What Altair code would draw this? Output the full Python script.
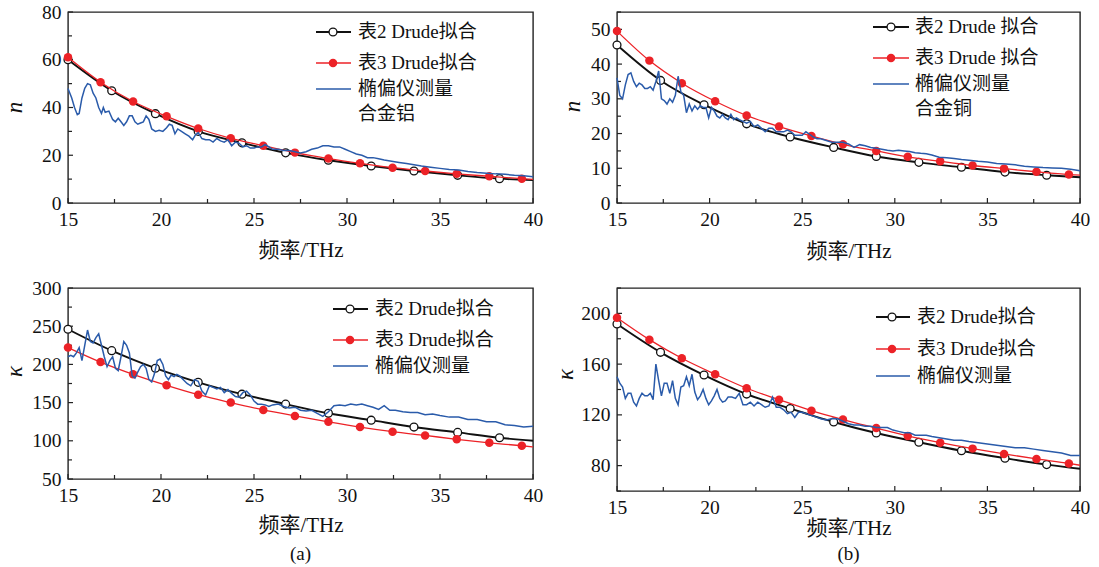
import altair as alt
import pandas as pd

SERIF = "'Liberation Serif', 'Noto Sans CJK SC', serif"
FRAME = "#222222"
C_BLACK = "#111111"
C_RED = "#EC2227"
C_BLUE = "#2A5BAA"

# ---- data -------------------------------------------------------------
X_MAJOR = [15, 20, 25, 30, 35, 40]
X_MINOR = [17.5, 22.5, 27.5, 32.5, 37.5]

X_BLACK = [15, 17.35, 19.7, 22.0, 24.35, 26.7, 29.0, 31.3, 33.6, 35.95, 38.2, 40]
X_RED = [15, 16.75, 18.5, 20.3, 22.0, 23.75, 25.5, 27.2, 29.0, 30.7, 32.45, 34.2, 35.9, 37.65, 39.4, 40]

# (a) n, alloy Al
TL_BLACK = [60, 47, 37.4, 30, 25.2, 21, 17.9, 15.5, 13.4, 11.6, 10.2, 9.6]
TL_RED = [61, 50.6, 42.5, 36.3, 31.2, 27.1, 24, 21.1, 18.6, 16.6, 14.8, 13.4, 12.2, 11.2, 10.2, 9.9]
TL_BLUE = [(15.0, 48), (15.2, 44), (15.35, 40), (15.5, 37), (15.6, 37.5), (15.75, 44), (15.9, 48),
           (16.05, 50), (16.2, 49.5), (16.35, 46), (16.5, 44), (16.65, 40), (16.8, 37.5), (16.9, 40),
           (17.0, 38), (17.2, 38.5), (17.4, 35), (17.55, 34), (17.7, 35.5), (17.85, 34), (18.0, 32.5),
           (18.15, 34), (18.3, 36.5), (18.45, 36.5), (18.6, 34), (18.75, 33), (18.9, 33.5), (19.05, 34),
           (19.2, 36.5), (19.35, 35), (19.5, 31), (19.7, 30), (19.9, 30.5), (20.1, 30), (20.3, 31.5),
           (20.45, 33), (20.6, 32.5), (20.75, 29), (20.9, 31), (21.1, 30), (21.3, 29), (21.5, 28),
           (21.7, 26.5), (21.85, 28.5), (22.0, 29.5), (22.2, 27), (22.4, 26.5), (22.6, 26.5), (22.8, 25.5),
           (23.0, 27), (23.2, 26), (23.4, 25.5), (23.6, 26.5), (23.8, 24), (24.0, 25.5), (24.2, 25),
           (24.4, 23.5), (24.6, 24), (24.8, 23), (25.0, 23), (25.2, 23.5), (25.4, 23.5), (25.6, 24.5),
           (25.8, 23.5), (26.0, 22.5), (26.3, 22.5), (26.6, 22), (26.9, 22), (27.2, 21.5), (27.5, 21),
           (27.8, 21.5), (28.1, 22.5), (28.4, 23), (28.7, 24), (29.0, 24), (29.3, 23.5), (29.6, 23.5),
           (29.9, 22.5), (30.2, 21.5), (30.5, 20.5), (30.8, 20), (31.1, 19), (31.4, 19), (31.7, 18.5),
           (32.0, 18), (32.4, 17.5), (32.8, 17), (33.2, 16.5), (33.6, 16), (34.0, 15.5), (34.5, 15),
           (35.0, 14.5), (35.5, 14), (36.0, 13.8), (36.5, 13.2), (37.0, 12.8), (37.5, 12.5), (38.0, 12.2),
           (38.5, 12), (39.0, 11.6), (39.5, 11.4), (40.0, 11)]

# (b) n, alloy Cu
TR_BLACK = [45.5, 35.3, 28.3, 22.8, 19, 16, 13.4, 11.7, 10.3, 8.9, 8, 7.4]
TR_RED = [49.5, 41, 34.5, 29.3, 25.2, 22, 19.3, 16.9, 15, 13.3, 12, 10.8, 9.9, 9, 8.2, 8]
TR_BLUE = [(15.0, 36), (15.15, 31), (15.3, 30), (15.45, 34), (15.6, 37), (15.75, 37.5), (15.9, 35),
           (16.05, 33.5), (16.2, 34.5), (16.35, 34), (16.5, 33), (16.65, 33), (16.8, 33.5), (16.95, 32.5),
           (17.1, 35), (17.25, 38), (17.4, 30), (17.55, 29.5), (17.7, 28.5), (17.85, 30), (18.0, 29),
           (18.15, 31), (18.3, 36.5), (18.45, 32), (18.6, 31), (18.75, 26), (18.9, 28.5), (19.05, 26.5),
           (19.2, 28), (19.35, 27), (19.5, 28), (19.65, 27.5), (19.8, 27.5), (19.95, 24.5), (20.1, 27.5),
           (20.25, 26.5), (20.4, 25), (20.55, 24.5), (20.7, 25.5), (20.85, 24.5), (21.0, 24), (21.15, 25.5),
           (21.3, 24), (21.45, 24.5), (21.6, 24), (21.8, 23.5), (22.0, 23), (22.2, 23.5), (22.4, 22),
           (22.6, 22.5), (22.8, 21.5), (23.0, 20.5), (23.2, 21.5), (23.4, 21.5), (23.6, 20.5), (23.8, 20.5),
           (24.0, 20.5), (24.2, 21), (24.4, 20.5), (24.6, 19.5), (24.8, 19.5), (25.0, 19.5), (25.2, 20.5),
           (25.4, 19.8), (25.6, 19), (25.8, 18.5), (26.0, 18.5), (26.3, 18), (26.6, 17.5), (26.9, 17.5),
           (27.2, 17.5), (27.5, 17), (27.8, 16), (28.1, 16.8), (28.4, 16.5), (28.7, 16), (29.0, 15.8),
           (29.3, 15.5), (29.6, 15.2), (29.9, 15), (30.2, 15.2), (30.5, 15), (30.8, 14.8), (31.1, 14.5),
           (31.4, 14.3), (31.7, 14.2), (32.0, 13.8), (32.4, 13.2), (32.8, 13), (33.2, 12.8), (33.6, 12.5),
           (34.0, 12.3), (34.5, 12), (35.0, 11.8), (35.5, 11.4), (36.0, 11.2), (36.5, 11), (37.0, 10.6),
           (37.5, 10.4), (38.0, 10.2), (38.5, 10.1), (39.0, 10), (39.5, 9.7), (40.0, 9.3)]

# (a) kappa, alloy Al
BL_BLACK = [246, 218, 195, 176.5, 161, 148, 136, 127, 118, 111, 104, 100]
BL_RED = [222, 203, 187, 172.6, 160.4, 150, 140.4, 132.6, 124.8, 118, 112, 107, 102, 97.4, 93.5, 92]
BL_BLUE = [(15.0, 210), (15.15, 212), (15.3, 210), (15.45, 215), (15.6, 222), (15.75, 205), (15.9, 225),
           (16.05, 245), (16.2, 230), (16.35, 228), (16.5, 235), (16.65, 240), (16.8, 225), (16.95, 210),
           (17.1, 197), (17.25, 205), (17.4, 210), (17.55, 195), (17.7, 192), (17.85, 210), (18.0, 230),
           (18.15, 225), (18.3, 215), (18.45, 185), (18.6, 182), (18.75, 190), (18.9, 197), (19.05, 200),
           (19.2, 195), (19.35, 180), (19.5, 177), (19.65, 188), (19.8, 205), (19.95, 207), (20.1, 200),
           (20.25, 185), (20.4, 180), (20.55, 186), (20.7, 184), (20.85, 187), (21.0, 185), (21.2, 180),
           (21.4, 175), (21.6, 172), (21.8, 180), (22.0, 178), (22.2, 165), (22.4, 160), (22.6, 172),
           (22.8, 170), (23.0, 168), (23.2, 170), (23.4, 163), (23.6, 167), (23.8, 162), (24.0, 158),
           (24.2, 157), (24.4, 163), (24.6, 165), (24.8, 160), (25.0, 152), (25.2, 148), (25.4, 148),
           (25.6, 147), (25.8, 145), (26.0, 147), (26.3, 148), (26.6, 145), (26.9, 143), (27.2, 144),
           (27.5, 140), (27.8, 139), (28.1, 140), (28.4, 136), (28.7, 132), (29.0, 138), (29.3, 146),
           (29.6, 147), (29.9, 146), (30.2, 148), (30.5, 147), (30.8, 148), (31.1, 146), (31.4, 144),
           (31.7, 141), (32.0, 146), (32.3, 140), (32.6, 140), (33.0, 138), (33.4, 137), (33.8, 137),
           (34.2, 134), (34.6, 135), (35.0, 133), (35.5, 131), (36.0, 131), (36.5, 128), (37.0, 128),
           (37.5, 125), (38.0, 125), (38.5, 121), (39.0, 120), (39.5, 118), (40.0, 119)]

# (b) kappa, alloy Cu
BR_BLACK = [191.6, 169.3, 151.4, 136.4, 125, 114.4, 105.7, 98.4, 91.7, 85.9, 80.8, 77.5]
BR_RED = [196.6, 179.3, 164.6, 152, 141, 132, 123.3, 116.3, 109.6, 103.4, 98.1, 93.4, 89.2, 85.3, 81.7, 80.3]
BR_BLUE = [(15.0, 150), (15.15, 145), (15.3, 142), (15.45, 133), (15.6, 137), (15.75, 137), (15.9, 130),
           (16.05, 127), (16.2, 133), (16.35, 137), (16.5, 135), (16.65, 135), (16.8, 137), (16.95, 132),
           (17.1, 160), (17.25, 147), (17.4, 135), (17.55, 145), (17.7, 145), (17.85, 137), (18.0, 147),
           (18.15, 133), (18.3, 128), (18.45, 142), (18.6, 143), (18.75, 150), (18.9, 143), (19.05, 152),
           (19.2, 138), (19.35, 132), (19.5, 135), (19.65, 140), (19.8, 133), (19.95, 128), (20.1, 131),
           (20.25, 135), (20.4, 140), (20.55, 133), (20.7, 130), (20.85, 131), (21.0, 134), (21.2, 134),
           (21.4, 133), (21.6, 137), (21.8, 128), (22.0, 128), (22.2, 130), (22.4, 127), (22.6, 130),
           (22.8, 128), (23.0, 126), (23.2, 127), (23.4, 134), (23.6, 126), (23.8, 126), (24.0, 124),
           (24.2, 121), (24.4, 122), (24.6, 118), (24.8, 122), (25.0, 122), (25.2, 121), (25.4, 120),
           (25.6, 119), (25.8, 118), (26.0, 117), (26.3, 116), (26.6, 117), (26.9, 117), (27.2, 115),
           (27.5, 113), (27.8, 112), (28.1, 112), (28.4, 111), (28.7, 111), (29.0, 110), (29.3, 110),
           (29.6, 110), (29.9, 108), (30.2, 107), (30.5, 106), (30.8, 106), (31.1, 104), (31.4, 104),
           (31.7, 104), (32.0, 103), (32.4, 102), (32.8, 101), (33.2, 100), (33.6, 100), (34.0, 99),
           (34.5, 98), (35.0, 97), (35.5, 96), (36.0, 95), (36.5, 94), (37.0, 94), (37.5, 93),
           (38.0, 92), (38.5, 91), (39.0, 90), (39.5, 88), (40.0, 88)]

LEG_A = ["表2 Drude拟合", "表3 Drude拟合", "椭偏仪测量"]
LEG_B = ["表2 Drude 拟合", "表3 Drude 拟合", "椭偏仪测量"]

LEG_FS = 19


def make_panel(w, h, ydom, ymaj, ymin, ytitle, black, red, blue, labels, note,
               leg, ytx, yty, xty, tag=None, tag_y=None, anchor=False):
    xs = alt.Scale(domain=[15, 40], nice=False, zero=False)
    ys = alt.Scale(domain=ydom, nice=False, zero=False)
    x_enc = alt.X("x:Q", scale=xs,
                  axis=alt.Axis(values=X_MAJOR, format="d", title="频率/THz",
                                titleX=w / 2, titleY=xty, titleAlign="center",
                                titleBaseline="middle", labelOverlap=False, labelFlush=False))
    y_enc = alt.Y("y:Q", scale=ys,
                  axis=alt.Axis(values=ymaj, format="d", title=ytitle,
                                titleX=ytx, titleY=yty, titleAngle=-90,
                                titleAlign="center", titleBaseline="middle",
                                titleFontStyle="italic", titleFontSize=23,
                                labelOverlap=False, labelFlush=False))

    dfb = pd.DataFrame({"x": X_BLACK, "y": black})
    dfr = pd.DataFrame({"x": X_RED, "y": red})
    dfm = pd.DataFrame({"x": [p[0] for p in blue], "y": [p[1] for p in blue]})
    one = pd.DataFrame({"d": [0]})

    layers = []
    # inward ticks
    layers.append(alt.Chart(pd.DataFrame({"x": X_MAJOR})).mark_rule(color=FRAME, strokeWidth=1.2)
                  .encode(x=x_enc, y=alt.value(h), y2=alt.value(h - 5)))
    layers.append(alt.Chart(pd.DataFrame({"x": X_MINOR})).mark_rule(color=FRAME, strokeWidth=1.2)
                  .encode(x=x_enc, y=alt.value(h), y2=alt.value(h - 4)))
    layers.append(alt.Chart(pd.DataFrame({"y": ymaj})).mark_rule(color=FRAME, strokeWidth=1.2)
                  .encode(y=y_enc, x=alt.value(0), x2=alt.value(5)))
    layers.append(alt.Chart(pd.DataFrame({"y": ymin})).mark_rule(color=FRAME, strokeWidth=1.2)
                  .encode(y=y_enc, x=alt.value(0), x2=alt.value(4)))

    # curves
    layers.append(alt.Chart(dfb).mark_line(color=C_BLACK, strokeWidth=1.9, interpolate="monotone")
                  .encode(x=x_enc, y=y_enc))
    layers.append(alt.Chart(dfb[dfb["x"] < 40]).mark_point(shape="circle", filled=True, fill="white",
                                                           stroke=C_BLACK, strokeWidth=1.3, size=62, opacity=1)
                  .encode(x=x_enc, y=y_enc))
    layers.append(alt.Chart(dfr).mark_line(color=C_RED, strokeWidth=1.3, interpolate="monotone")
                  .encode(x=x_enc, y=y_enc))
    layers.append(alt.Chart(dfr[dfr["x"] < 40]).mark_point(shape="circle", filled=True, fill=C_RED,
                                                           size=72, opacity=1)
                  .encode(x=x_enc, y=y_enc))
    layers.append(alt.Chart(dfm).mark_line(color=C_BLUE, strokeWidth=1.5)
                  .encode(x=x_enc, y=y_enc))

    # legend (drawn by hand)
    l0, l1, lc, tx, rows = leg
    layers.append(alt.Chart(one).mark_rule(color=C_BLACK, strokeWidth=1.9)
                  .encode(x=alt.value(l0), x2=alt.value(l1), y=alt.value(rows[0])))
    layers.append(alt.Chart(one).mark_point(shape="circle", filled=True, fill="white", stroke=C_BLACK,
                                            strokeWidth=1.3, size=62, opacity=1)
                  .encode(x=alt.value(lc), y=alt.value(rows[0])))
    layers.append(alt.Chart(one).mark_rule(color=C_RED, strokeWidth=1.3)
                  .encode(x=alt.value(l0), x2=alt.value(l1), y=alt.value(rows[1])))
    layers.append(alt.Chart(one).mark_point(shape="circle", filled=True, fill=C_RED, size=72, opacity=1)
                  .encode(x=alt.value(lc), y=alt.value(rows[1])))
    layers.append(alt.Chart(one).mark_rule(color=C_BLUE, strokeWidth=1.6)
                  .encode(x=alt.value(l0), x2=alt.value(l1), y=alt.value(rows[2])))
    texts = list(labels) + ([note] if note else [])
    for i, t in enumerate(texts):
        layers.append(alt.Chart(one).mark_text(align="left", baseline="middle", font=SERIF,
                                               fontSize=LEG_FS, color=C_BLACK)
                      .encode(x=alt.value(tx), y=alt.value(rows[i]), text=alt.value(t)))
    if tag:
        layers.append(alt.Chart(one).mark_text(align="center", baseline="middle", font=SERIF,
                                               fontSize=19, color=C_BLACK)
                      .encode(x=alt.value(w / 2), y=alt.value(tag_y), text=alt.value(tag)))
    if anchor:
        layers.append(alt.Chart(one).mark_rule(opacity=0, strokeWidth=0.5, color="white")
                      .encode(x=alt.value(-67), x2=alt.value(-66), y=alt.value(-11), y2=alt.value(-10)))
    return alt.layer(*layers).properties(width=w, height=h)


TL = make_panel(465, 191, [0, 80], [0, 20, 40, 60, 80], [10, 30, 50, 70], "n",
                TL_BLACK, TL_RED, TL_BLUE, LEG_A, "合金铝",
                (248, 283, 265, 290, [20, 51, 77, 102]), -54, 95, 47, anchor=True)
TR = make_panel(463, 191, [0, 55], [0, 10, 20, 30, 40, 50], [5, 15, 25, 35, 45, 55], "n",
                TR_BLACK, TR_RED, TR_BLUE, LEG_B, "合金铜",
                (256, 292, 274, 298, [15, 46, 72, 97]), -45, 94, 48)
BL = make_panel(465, 191, [50, 300], [50, 100, 150, 200, 250, 300], [75, 125, 175, 225, 275], "κ",
                BL_BLACK, BL_RED, BL_BLUE, LEG_A, None,
                (265, 300, 282, 307, [21, 52, 78]), -54, 83, 46, tag="(a)", tag_y=266)
BR = make_panel(463, 203, [60, 220], [80, 120, 160, 200], [60, 100, 140, 180, 220], "κ",
                BR_BLACK, BR_RED, BR_BLUE, LEG_A, None,
                (259, 293, 275, 300, [29, 61, 88]), -52, 86, 37, tag="(b)", tag_y=266)

chart = alt.concat(
    TL, TR, BL, BR, columns=2,
    spacing={"row": 85, "column": 84}, bounds="flush",
).properties(
    padding={"left": 0, "top": 0, "right": 4, "bottom": 4}
).configure_view(
    stroke=FRAME, strokeWidth=1.4
).configure_axis(
    grid=False, domain=False, ticks=False, tickSize=0,
    labelFont=SERIF, labelFontSize=19.5, labelColor=C_BLACK,
    titleFont=SERIF, titleFontSize=21, titleFontWeight="normal", titleColor=C_BLACK,
).configure_axisX(labelPadding=7).configure_axisY(labelPadding=7)

chart.save("out.html", embed_options={"renderer": "svg", "actions": False})
